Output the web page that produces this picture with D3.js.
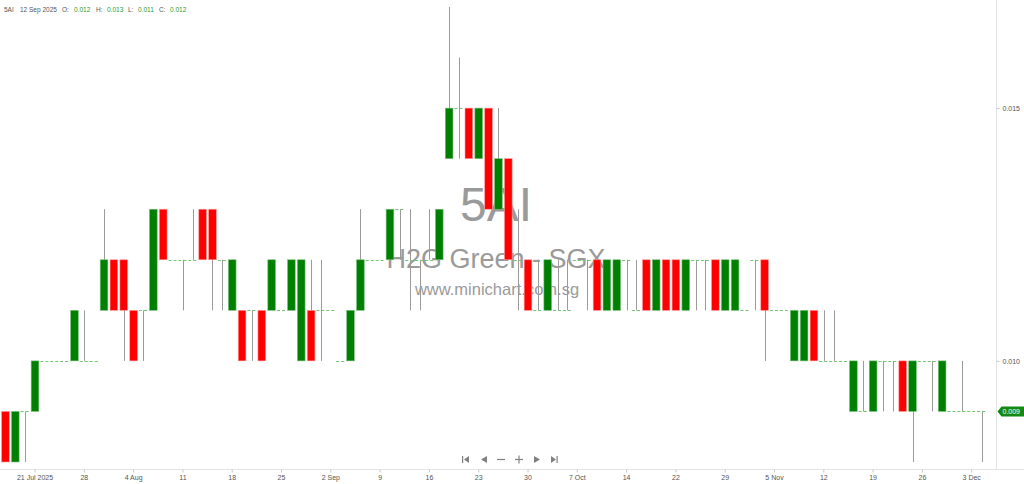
<!DOCTYPE html>
<html><head><meta charset="utf-8">
<script src="https://cdn.jsdelivr.net/npm/d3@7"></script>
<style>body{margin:0;background:#fff;overflow:hidden}svg{display:block;font-family:"Liberation Sans",Arial,sans-serif}</style>
</head><body><svg id="c" width="1024" height="484"></svg>
<script>
// ---- data (prices in SGD) ----
const openP  = [0.009,0.008,0.009,0.009,0.010,0.010,0.010,0.010,0.010,0.010,
                0.011,0.012,0.012,0.011,0.011,0.011,0.013,0.012,0.012,0.012,
                0.013,0.013,0.012,0.011,0.011,0.011,0.011,0.011,0.011,0.011,
                0.010,0.011,0.011,0.011,0.010,0.010,0.011,0.012,0.012,0.012,
                0.013,0.012,0.012,0.012,0.012,0.014,0.015,0.015,0.014,0.015,
                0.013,0.014,0.012,0.012,0.011,0.011,0.011,0.011,0.012,0.012,
                0.012,0.011,0.011,0.012,0.011,0.012,0.011,0.012,0.012,0.011,
                0.012,0.012,0.012,0.011,0.011,0.011,0.012,0.012,0.011,0.011,
                0.010,0.010,0.011,0.010,0.010,0.010,0.009,0.009,0.009,0.010,
                0.010,0.010,0.009,0.010,0.010,0.009,0.009,0.009,0.009,0.009];
const highP  = [0.009,0.009,0.009,0.010,0.010,0.010,0.010,0.011,0.011,0.010,
                0.013,0.012,0.012,0.011,0.011,0.013,0.013,0.012,0.012,0.013,
                0.013,0.013,0.012,0.012,0.011,0.011,0.011,0.012,0.011,0.012,
                0.012,0.012,0.012,0.011,0.010,0.011,0.013,0.012,0.012,0.013,
                0.013,0.013,0.012,0.013,0.013,0.017,0.016,0.015,0.015,0.015,
                0.015,0.014,0.013,0.012,0.012,0.012,0.012,0.012,0.012,0.012,
                0.012,0.012,0.012,0.012,0.012,0.012,0.012,0.012,0.012,0.012,
                0.012,0.012,0.012,0.012,0.012,0.011,0.012,0.012,0.011,0.011,
                0.011,0.011,0.011,0.011,0.011,0.010,0.010,0.010,0.010,0.010,
                0.010,0.010,0.010,0.010,0.010,0.010,0.009,0.010,0.009,0.009];
const lowP   = [0.008,0.008,0.008,0.009,0.010,0.010,0.010,0.010,0.010,0.010,
                0.011,0.011,0.010,0.010,0.010,0.011,0.012,0.012,0.011,0.012,
                0.012,0.011,0.011,0.011,0.010,0.010,0.010,0.011,0.011,0.011,
                0.010,0.010,0.010,0.011,0.010,0.010,0.011,0.012,0.012,0.012,
                0.012,0.011,0.011,0.012,0.012,0.014,0.014,0.014,0.014,0.013,
                0.013,0.012,0.011,0.011,0.011,0.011,0.011,0.011,0.012,0.011,
                0.011,0.011,0.011,0.011,0.011,0.011,0.011,0.011,0.011,0.011,
                0.011,0.011,0.011,0.011,0.011,0.011,0.011,0.010,0.011,0.011,
                0.010,0.010,0.010,0.010,0.010,0.010,0.009,0.009,0.009,0.009,
                0.009,0.009,0.008,0.010,0.009,0.009,0.009,0.009,0.009,0.008];
const closeP = [0.008,0.009,0.009,0.010,0.010,0.010,0.010,0.011,0.010,0.010,
                0.012,0.011,0.011,0.010,0.011,0.013,0.012,0.012,0.012,0.012,
                0.012,0.012,0.012,0.012,0.010,0.011,0.010,0.012,0.011,0.012,
                0.012,0.010,0.011,0.011,0.010,0.011,0.012,0.012,0.012,0.013,
                0.013,0.012,0.012,0.012,0.013,0.015,0.015,0.014,0.015,0.013,
                0.014,0.012,0.012,0.011,0.011,0.012,0.011,0.011,0.012,0.012,
                0.011,0.012,0.012,0.012,0.011,0.011,0.012,0.011,0.011,0.012,
                0.012,0.012,0.011,0.012,0.012,0.011,0.012,0.011,0.011,0.011,
                0.011,0.011,0.010,0.010,0.010,0.010,0.010,0.009,0.010,0.010,
                0.010,0.009,0.010,0.010,0.010,0.010,0.009,0.009,0.009,0.009];
const tickBars   = [3,8,13,18,23,28,33,38,43,48,53,58,63,68,73,78,83,88,93,98];
const tickLabels = ["21 Jul 2025","28","4 Aug","11","18","25","2 Sep","9","16","23",
                    "30","7 Oct","14","22","29","5 Nov","12","19","26","3 Dec"];
const yTicks = [0.010, 0.015];
const lastPrice = 0.009;
const headerTitle = ["5AI", "12 Sep 2025"];
const headerKeys = ["O:", "H:", "L:", "C:"];
const headerVals = ["0.012", "0.013", "0.011", "0.012"];
const watermark = ["5AI", "H2G Green - SGX", "www.minichart.com.sg"];

// ---- drawing ----
const svg = d3.select("#c");
const W = 1024, H = 484, axisX = 996.5, axisY = 469.5;
const bars = d3.range(openP.length).map(i => ({i, o: openP[i], h: highP[i], l: lowP[i], c: closeP[i]}));

const x = d3.scaleBand().domain(bars.map(d => d.i)).range([0.5, 986.5]).paddingInner(0.22).paddingOuter(0.11);
const y = d3.scaleLinear().domain([0.008, 0.017]).range([462, 7]);
const cx = i => x(i) + x.bandwidth() / 2;

// watermark
const wm = svg.append("g").attr("fill", "#9a9a9a").attr("text-anchor", "middle");
wm.append("text").attr("x", 496).attr("y", 221).attr("font-size", 48).text(watermark[0]);
wm.append("text").attr("x", 496).attr("y", 268).attr("font-size", 27).text(watermark[1]);
wm.append("text").attr("x", 497).attr("y", 295).attr("font-size", 16.5).text(watermark[2]);

// axes lines
svg.append("line").attr("x1", 0).attr("x2", W).attr("y1", axisY).attr("y2", axisY).attr("stroke", "#e2e2e2");
svg.append("line").attr("x1", axisX).attr("x2", axisX).attr("y1", 0).attr("y2", axisY).attr("stroke", "#e2e2e2");

// bottom axis
const gx = svg.append("g").attr("transform", `translate(0,${axisY})`)
  .call(d3.axisBottom(x).tickValues(tickBars).tickFormat((d, k) => tickLabels[k]).tickSize(3).tickPadding(3));
gx.select(".domain").remove();
gx.selectAll(".tick line").attr("stroke", "#c8c8c8");
gx.selectAll(".tick text").attr("fill", "#555").attr("font-size", 7).attr("font-family", "Liberation Sans, Arial, sans-serif");

// right axis
const gy = svg.append("g").attr("transform", `translate(${axisX},0)`)
  .call(d3.axisRight(y).tickValues(yTicks).tickFormat(d3.format(".3f")).tickSize(3).tickPadding(3));
gy.select(".domain").remove();
gy.selectAll(".tick line").attr("stroke", "#c8c8c8");
gy.selectAll(".tick text").attr("fill", "#555").attr("font-size", 7).attr("font-family", "Liberation Sans, Arial, sans-serif");

// wicks
svg.append("g").selectAll("line").data(bars.filter(d => d.h > d.l)).join("line")
  .attr("x1", d => Math.round(cx(d.i)) + 0.5).attr("x2", d => Math.round(cx(d.i)) + 0.5)
  .attr("y1", d => y(d.h)).attr("y2", d => y(d.l))
  .attr("stroke", "#9a9a9a").attr("stroke-width", 1);

// bodies
svg.append("g").selectAll("rect").data(bars.filter(d => d.o !== d.c)).join("rect")
  .attr("x", d => x(d.i)).attr("width", x.bandwidth())
  .attr("y", d => y(Math.max(d.o, d.c))).attr("height", d => Math.abs(y(d.o) - y(d.c)))
  .attr("fill", d => d.c > d.o ? "#008000" : "#ff0000")
  .attr("stroke", d => d.c > d.o ? "#7fbf7f" : "#ff9a9a").attr("stroke-width", 0.6);

// doji ticks
svg.append("g").selectAll("line").data(bars.filter(d => d.o === d.c)).join("line")
  .attr("x1", d => cx(d.i) - 4.5).attr("x2", d => cx(d.i) + 4.5)
  .attr("y1", d => Math.round(y(d.o)) + 0.5).attr("y2", d => Math.round(y(d.o)) + 0.5)
  .attr("stroke", "#74c474").attr("stroke-width", 1).attr("stroke-dasharray", "3,2");

// last price tag
const ly = y(lastPrice);
svg.append("path")
  .attr("d", `M${axisX + 1},${ly} L${axisX + 5},${ly - 5} L${W},${ly - 5} L${W},${ly + 5} L${axisX + 5},${ly + 5} Z`)
  .attr("fill", "#138a13");
svg.append("text").attr("x", axisX + 6).attr("y", ly + 2.5).attr("fill", "#fff").attr("font-size", 7).text(lastPrice.toFixed(3));

// header
const hdr = svg.append("g").attr("font-size", 6.5).attr("transform", "translate(0,12)");
hdr.append("text").attr("x", 4).attr("fill", "#555").text(headerTitle[0]);
hdr.append("text").attr("x", 20).attr("fill", "#555").text(headerTitle[1]);
const keyX = [62, 96, 128, 159], valX = [74, 107, 138, 170];
headerKeys.forEach((k, j) => {
  hdr.append("text").attr("x", keyX[j]).attr("fill", "#555").text(k);
  hdr.append("text").attr("x", valX[j]).attr("fill", "#2c9c2c").text(headerVals[j]);
});

// navigation controls
const nav = svg.append("g").attr("fill", "#808080").attr("stroke", "#808080");
const ny = 459.5;
nav.append("rect").attr("x", 462).attr("y", ny - 3.5).attr("width", 1.2).attr("height", 7).attr("stroke", "none");
nav.append("path").attr("d", `M469,${ny - 3.5} L464,${ny} L469,${ny + 3.5} Z`).attr("stroke", "none");
nav.append("path").attr("d", `M487,${ny - 3.5} L481,${ny} L487,${ny + 3.5} Z`).attr("stroke", "none");
nav.append("line").attr("x1", 497).attr("x2", 505).attr("y1", ny).attr("y2", ny).attr("stroke-width", 1.2);
nav.append("line").attr("x1", 515).attr("x2", 523).attr("y1", ny).attr("y2", ny).attr("stroke-width", 1.2);
nav.append("line").attr("x1", 519).attr("x2", 519).attr("y1", ny - 4).attr("y2", ny + 4).attr("stroke-width", 1.2);
nav.append("path").attr("d", `M534,${ny - 3.5} L540,${ny} L534,${ny + 3.5} Z`).attr("stroke", "none");
nav.append("path").attr("d", `M551,${ny - 3.5} L556,${ny} L551,${ny + 3.5} Z`).attr("stroke", "none");
nav.append("rect").attr("x", 556.5).attr("y", ny - 3.5).attr("width", 1.2).attr("height", 7).attr("stroke", "none");
</script></body></html>
